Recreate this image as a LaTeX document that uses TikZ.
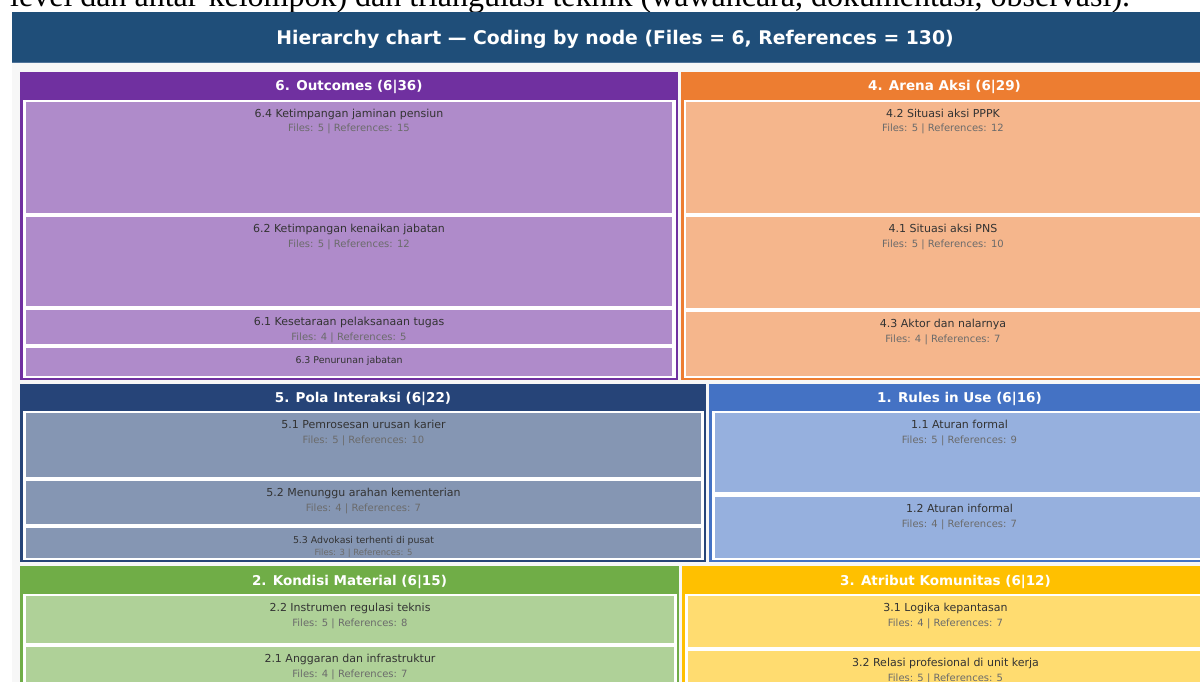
\documentclass[tikz,border=0pt]{standalone}
\usepackage{fontspec}
\setmainfont{DejaVu Sans}
\newfontfamily\introserif{Liberation Serif}

\definecolor{titlebar}{HTML}{1F4E79}
\definecolor{titleedge}{HTML}{4F7399}
\definecolor{figbg}{HTML}{F7F7F7}
\definecolor{cOut}{HTML}{7030A0}
\definecolor{cArena}{HTML}{ED7D31}
\definecolor{cPola}{HTML}{264478}
\definecolor{cRules}{HTML}{4472C4}
\definecolor{cKond}{HTML}{70AD47}
\definecolor{cAtr}{HTML}{FFC000}

\tikzset{
  hdrtext/.style={anchor=base, inner sep=0pt, text=white,
    font=\bfseries\fontsize{13.5}{16}\selectfont},
  lbltext/.style={anchor=base, inner sep=0pt, text=black!80,
    font=\fontsize{11}{13}\selectfont},
  filestext/.style={anchor=base, inner sep=0pt, text=black!58,
    font=\fontsize{10}{12}\selectfont},
  lblsmall/.style={lbltext, font=\fontsize{9.4}{11}\selectfont},
  filessmall/.style={filestext, font=\fontsize{8.5}{10}\selectfont},
  leafbox/.style={draw=white, line width=1.2pt},
}

% group: name, x1, y1, x2, y2, header bottom, colour, title
\newcommand{\grpbox}[8]{%
  \fill[white] (#2,#3) rectangle (#4,#5);
  \fill[#7] (#2,#3) rectangle (#4,#6);
  \draw[#7, line width=2.5pt] ({#2+1.25},{#3+1.25}) rectangle ({#4-1.25},{#5-1.25});
  \node[hdrtext] (#1) at ({(#2+#4)/2},{(#3+#6)/2+5}) {#8};
}

% leaf: name, x1, y1, x2, y2, colour, label, counts
\newcommand{\leafbox}[8]{%
  \fill[leafbox, fill=#6!56!white] (#2,#3) rectangle (#4,#5);
  \begin{scope}
    \clip (#2,#3) rectangle (#4,#5);
    \node[lbltext] (#1) at ({(#2+#4)/2},{#3+16.5}) {#7};
    \node[filestext] (#1-n) at ({(#2+#4)/2},{#3+31}) {#8};
  \end{scope}
}

% smaller leaf type for the thin boxes
\newcommand{\leafsmall}[8]{%
  \fill[leafbox, fill=#6!56!white] (#2,#3) rectangle (#4,#5);
  \begin{scope}
    \clip (#2,#3) rectangle (#4,#5);
    \node[lblsmall] (#1) at ({(#2+#4)/2},{#3+16.5}) {#7};
    \node[filessmall] (#1-n) at ({(#2+#4)/2},{#3+28.5}) {#8};
  \end{scope}
}

\begin{document}
\begin{tikzpicture}[x=1pt, y=-1pt]
\useasboundingbox (0,0) rectangle (1200,682);
\clip (0,0) rectangle (1200,682);
\fill[white] (0,0) rectangle (1200,682);

% running text of the page above the chart
\node[anchor=base west, inner sep=0pt, font=\introserif\fontsize{32}{36}\selectfont]
  (intro) at (10,7) {level dan antar-kelompok) dan triangulasi teknik (wawancara, dokumentasi, observasi).};

% chart area and title bar
\fill[figbg] (12,12) rectangle (1200,682);
\fill[titlebar] (12,12) rectangle (1220,63);
\draw[titleedge, line width=1pt] (12,62.5) -- (1220,62.5);
\node[anchor=base, inner sep=0pt, text=white, font=\bfseries\fontsize{18.8}{22}\selectfont]
  (title) at (615,45) {Hierarchy chart — Coding by node (Files = 6, References = 130)};

% 6. Outcomes
\grpbox{gOut}{20}{72}{678}{380}{100}{cOut}{6. Outcomes (6|36)}
\leafbox{n64}{25}{101}{673}{214}{cOut}{6.4 Ketimpangan jaminan pensiun}{Files: 5 | References: 15}
\leafbox{n62}{25}{216}{673}{307}{cOut}{6.2 Ketimpangan kenaikan jabatan}{Files: 5 | References: 12}
\leafbox{n61}{25}{309}{673}{345}{cOut}{6.1 Kesetaraan pelaksanaan tugas}{Files: 4 | References: 5}
\leafsmall{n63}{25}{347}{673}{377}{cOut}{6.3 Penurunan jabatan}{}

% 4. Arena Aksi
\grpbox{gArena}{681}{72}{1208}{380}{100}{cArena}{4. Arena Aksi (6|29)}
\leafbox{n42}{685}{101}{1201}{214}{cArena}{4.2 Situasi aksi PPPK}{Files: 5 | References: 12}
\leafbox{n41}{685}{216}{1201}{309}{cArena}{4.1 Situasi aksi PNS}{Files: 5 | References: 10}
\leafbox{n43}{685}{311}{1201}{377}{cArena}{4.3 Aktor dan nalarnya}{Files: 4 | References: 7}

% 5. Pola Interaksi
\grpbox{gPola}{20}{384}{706}{562}{411}{cPola}{5. Pola Interaksi (6|22)}
\leafbox{n51}{25}{412}{702}{478}{cPola}{5.1 Pemrosesan urusan karier}{Files: 5 | References: 10}
\leafbox{n52}{25}{480}{702}{525}{cPola}{5.2 Menunggu arahan kementerian}{Files: 4 | References: 7}
\leafsmall{n53}{25}{527}{702}{559}{cPola}{5.3 Advokasi terhenti di pusat}{Files: 3 | References: 5}

% 1. Rules in Use
\grpbox{gRules}{709}{384}{1210}{562}{411}{cRules}{1. Rules in Use (6|16)}
\leafbox{n11}{714}{412}{1205}{493}{cRules}{1.1 Aturan formal}{Files: 5 | References: 9}
\leafbox{n12}{714}{496}{1205}{559}{cRules}{1.2 Aturan informal}{Files: 4 | References: 7}

% 2. Kondisi Material
\grpbox{gKond}{20}{566}{679}{700}{594}{cKond}{2. Kondisi Material (6|15)}
\leafbox{n22}{25}{595}{675}{644}{cKond}{2.2 Instrumen regulasi teknis}{Files: 5 | References: 8}
\leafbox{n21}{25}{646}{675}{700}{cKond}{2.1 Anggaran dan infrastruktur}{Files: 4 | References: 7}

% 3. Atribut Komunitas
\grpbox{gAtr}{682}{566}{1209}{700}{594}{cAtr}{3. Atribut Komunitas (6|12)}
\leafbox{n31}{687}{595}{1204}{648}{cAtr}{3.1 Logika kepantasan}{Files: 4 | References: 7}
\leafbox{n32}{687}{650}{1204}{700}{cAtr}{3.2 Relasi profesional di unit kerja}{Files: 5 | References: 5}
\end{tikzpicture}
\end{document}
